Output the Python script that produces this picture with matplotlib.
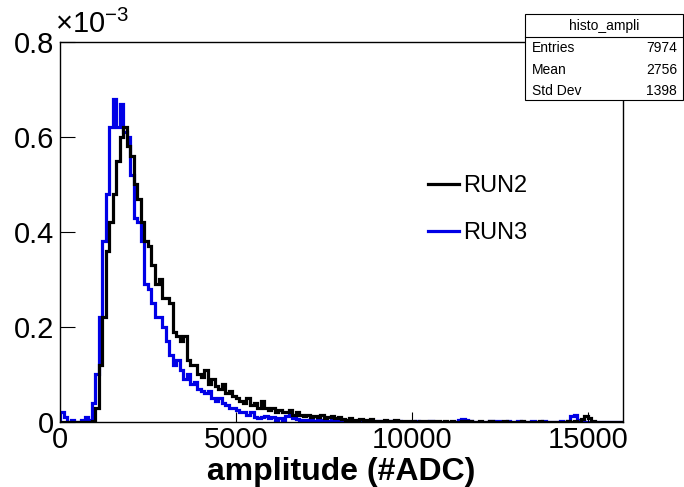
import matplotlib
matplotlib.use("Agg")
import matplotlib.pyplot as plt
import numpy as np
from matplotlib.patches import Rectangle
from matplotlib.lines import Line2D

# histogram contents (units of 1e-3), bins of 100 ADC from 0 to 16000
bin_width = 100
run2 = [
    0, 0, 0, 0, 0, 0, 0, 0, 0, 0.002,
    0.03, 0.12, 0.22, 0.36, 0.42, 0.48, 0.55, 0.60, 0.62, 0.58,
    0.56, 0.50, 0.47, 0.42, 0.38, 0.37, 0.33, 0.29, 0.30, 0.26,
    0.26, 0.25, 0.19, 0.18, 0.17, 0.18, 0.13, 0.12, 0.12, 0.10,
    0.095, 0.11, 0.08, 0.09, 0.075, 0.07, 0.08, 0.06, 0.065, 0.055,
    0.05, 0.045, 0.04, 0.05, 0.035, 0.04, 0.03, 0.045, 0.03, 0.025,
    0.03, 0.02, 0.025, 0.02, 0.02, 0.025, 0.015, 0.02, 0.015, 0.012,
    0.015, 0.01, 0.012, 0.01, 0.015, 0.008, 0.01, 0.012, 0.008, 0.01,
    0.006, 0.004, 0.008, 0.005, 0.004, 0.006, 0.003, 0.004, 0.006, 0.003,
    0.003, 0.002, 0.004, 0.002, 0.003, 0.005, 0.002, 0.002, 0.003, 0.002,
    0.002, 0.001, 0.002, 0.003, 0.001, 0.002, 0.001, 0.002, 0.001, 0.002,
    0.001, 0.002, 0.001, 0.001, 0.003, 0.001, 0.002, 0.001, 0.001, 0.002,
    0.001, 0.001, 0.002, 0.001, 0.001, 0.001, 0.002, 0.001, 0.001, 0.001,
    0.001, 0.002, 0.001, 0.001, 0.001, 0.001, 0.002, 0.001, 0.001, 0.001,
    0.001, 0.001, 0.001, 0.001, 0.002, 0.001, 0.003, 0.001, 0.006, 0.012,
    0.008, 0.003, 0, 0, 0, 0, 0, 0, 0, 0,
]
run3 = [
    0.02, 0.01, 0, 0.005, 0, 0, 0.005, 0.01, 0.005, 0.04,
    0.10, 0.22, 0.38, 0.48, 0.62, 0.68, 0.62, 0.67, 0.61, 0.60,
    0.52, 0.43, 0.42, 0.38, 0.29, 0.28, 0.25, 0.22, 0.22, 0.20,
    0.17, 0.14, 0.12, 0.13, 0.11, 0.09, 0.10, 0.08, 0.085, 0.07,
    0.065, 0.06, 0.065, 0.05, 0.045, 0.05, 0.04, 0.035, 0.03, 0.03,
    0.025, 0.02, 0.02, 0.015, 0.02, 0.01, 0.008, 0.01, 0.012, 0.008,
    0.01, 0.005, 0.008, 0.005, 0.012, 0.015, 0.008, 0.006, 0.005, 0.004,
    0.004, 0.006, 0.003, 0.005, 0.004, 0.002, 0.003, 0.005, 0.002, 0.003,
    0.002, 0.003, 0.002, 0.001, 0.003, 0.002, 0.001, 0.002, 0.002, 0.001,
    0.002, 0.001, 0.001, 0.002, 0.001, 0.001, 0.002, 0.001, 0.001, 0.001,
    0.001, 0.002, 0.001, 0.001, 0.001, 0.002, 0.001, 0.001, 0.001, 0.001,
    0.001, 0.001, 0.001, 0.004, 0.006, 0.005, 0.002, 0.001, 0.001, 0.001,
    0.001, 0.001, 0.002, 0.001, 0.002, 0.001, 0.001, 0.002, 0.001, 0.001,
    0.002, 0.001, 0.001, 0.001, 0.002, 0.001, 0.001, 0.002, 0.001, 0.001,
    0.001, 0.001, 0.002, 0.001, 0.002, 0.012, 0.015, 0.005, 0.002, 0.001,
    0, 0, 0, 0, 0, 0, 0, 0, 0, 0,
]
x_ticks = [0, 5000, 10000, 15000]
y_ticks = [0, 0.2, 0.4, 0.6, 0.8]
y_labels = ["0", "0.2", "0.4", "0.6", "0.8"]
stats_title = "histo_ampli"
stats_names = ["Entries", "Mean", "Std Dev"]
stats_values = ["7974", "2756", "1398"]

plt.rcParams['font.family'] = ['Liberation Sans', 'DejaVu Sans']
plt.rcParams['mathtext.fontset'] = 'custom'
plt.rcParams['mathtext.rm'] = 'Liberation Sans'

fig = plt.figure(figsize=(6.84, 4.87), dpi=100)
ax = fig.add_axes([0.0877, 0.1335, 0.8231, 0.7803])

blue = '#0000e6'
edges = np.arange(len(run2) + 1) * bin_width
ax.stairs(run3, edges, color=blue, lw=2.3, baseline=0)
ax.stairs(run2, edges, color='black', lw=2.3, baseline=0)

ax.set_xlim(0, 16000)
ax.set_ylim(0, 0.8)
ax.set_xticks(x_ticks)
ax.set_yticks(y_ticks)
ax.set_yticklabels(y_labels)
ax.tick_params(axis='x', direction='in', length=7, width=0.8, labelsize=21, pad=3)
ax.tick_params(axis='y', direction='in', length=11, width=0.8, labelsize=21, pad=4)
ax.set_xlabel("amplitude (#ADC)", fontsize=23, fontweight='bold', labelpad=2)
for s in ax.spines.values():
    s.set_linewidth(1.0)

fig.text(0.080, 0.932, r'$\times10^{-3}$', fontsize=21, ha='left', va='baseline')

handles = [Line2D([], [], color='black', lw=2.3), Line2D([], [], color=blue, lw=2.3)]
ax.legend(handles, ["RUN2", "RUN3"], loc='upper left', bbox_to_anchor=(0.612, 0.66),
          bbox_transform=fig.transFigure, frameon=False, fontsize=17,
          handlelength=1.3, handletextpad=0.2, labelspacing=1.05, borderaxespad=0)

# stats box
bx0, bx1 = 525 / 684, 683 / 684
by0, by1 = 1 - 100 / 487, 1 - 14 / 487
fig.add_artist(Rectangle((bx0, by0), bx1 - bx0, by1 - by0, transform=fig.transFigure,
                         facecolor='white', edgecolor='black', lw=0.8, zorder=5))
hy = 1 - 37 / 487
fig.add_artist(Line2D([bx0, bx1], [hy, hy], transform=fig.transFigure, color='black', lw=0.8, zorder=6))
fig.text((bx0 + bx1) / 2, 1 - 26 / 487, stats_title, ha='center', va='center', fontsize=10, zorder=7)
for i, (n, v) in enumerate(zip(stats_names, stats_values)):
    yy = 1 - (48 + 21.5 * i) / 487
    fig.text(532 / 684, yy, n, ha='left', va='center', fontsize=10, zorder=7)
    fig.text(677 / 684, yy, v, ha='right', va='center', fontsize=10, zorder=7)

fig.savefig("out.png", dpi=100)
